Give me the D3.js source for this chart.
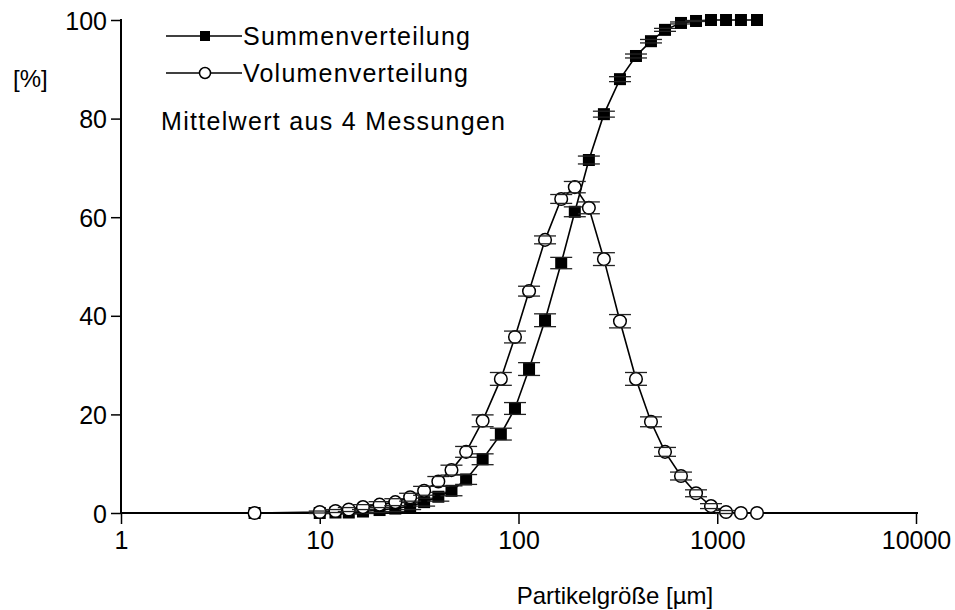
<!DOCTYPE html>
<html>
<head>
<meta charset="utf-8">
<script src="https://cdn.jsdelivr.net/npm/d3@7"></script>
<style>
  html, body { margin: 0; padding: 0; background: #fff; }
  svg text { font-family: Arial, "Liberation Sans", sans-serif; fill: #000; }
</style>
</head>
<body>
<svg id="chart" width="955" height="610"></svg>
<script>
// Particle size classes [µm]
const sizes = [4.7, 10, 12, 14, 16.5, 20, 24, 28.5, 33.5, 39.5, 46, 54.5, 66, 81.5, 96, 113, 136, 164, 192, 226, 269, 324, 390, 464, 546, 657, 782, 930, 1107, 1316, 1585];
// Cumulative distribution [%] and its spread
const summe = [0, 0, 0.1, 0.1, 0.3, 0.6, 0.9, 1.4, 2.2, 3.3, 4.5, 6.8, 10.9, 16.0, 21.2, 29.2, 39.1, 50.7, 61.1, 71.6, 80.9, 88.0, 92.7, 95.7, 98.0, 99.4, 99.8, 100, 100, 100, 100];
const summeErr = [0, 0.1, 0.2, 0.3, 0.4, 0.5, 0.6, 0.7, 0.8, 0.9, 1.0, 1.0, 1.1, 1.2, 1.2, 1.3, 1.3, 1.15, 1.0, 0.8, 0.6, 0.5, 0.4, 0.35, 0.3, 0.2, 0.1, 0, 0, 0, 0];
// Volume distribution [%] and its spread
const volumen = [0, 0.2, 0.4, 0.7, 1.2, 1.7, 2.2, 3.2, 4.5, 6.4, 8.7, 12.4, 18.7, 27.2, 35.7, 45.0, 55.4, 63.7, 66.1, 61.9, 51.5, 38.9, 27.2, 18.5, 12.4, 7.5, 4.0, 1.4, 0.2, 0, 0];
const volumenErr = [0, 0.2, 0.3, 0.4, 0.5, 0.6, 0.7, 0.8, 0.9, 1.0, 1.0, 1.1, 1.2, 1.3, 1.2, 1.0, 0.8, 0.9, 1.15, 1.2, 1.3, 1.35, 1.3, 1.0, 0.9, 0.8, 0.7, 0.5, 0.3, 0, 0];

const xTicks = [1, 10, 100, 1000, 10000];
const yTicks = [0, 20, 40, 60, 80, 100];
const yMinor = [10, 30, 50, 70, 90];

const svg = d3.select("#chart");
const x = d3.scaleLog().domain([1, 10000]).range([121, 916]);
const y = d3.scaleLinear().domain([0, 100]).range([513, 20]);

// minor x ticks: 2..9 in each decade
const xMinor = [];
for (let d = 1; d < 10000; d *= 10) for (let k = 2; k <= 9; k++) xMinor.push(d * k);

// ---- axes ----
const gx = svg.append("g").attr("transform", `translate(0,${y(0)})`);
gx.call(d3.axisBottom(x).tickValues(xMinor).tickSize(6).tickFormat(""))
  .call(g => g.select(".domain").remove());
gx.call(d3.axisBottom(x).tickValues(xTicks).tickSize(11).tickPadding(4).tickFormat(d3.format("d")))
  .call(g => g.select(".domain").attr("d", `M${x(1)},0H${x(10000) + 2}`).attr("stroke-width", 2));
gx.selectAll("line").attr("stroke-width", 1.5);
gx.selectAll("text").attr("font-size", 25).attr("dy", "0.85em");

const gy = svg.append("g").attr("transform", `translate(${x(1)},0)`);
gy.call(d3.axisLeft(y).tickValues(yMinor).tickSize(4).tickFormat(""))
  .call(g => g.select(".domain").remove());
gy.call(d3.axisLeft(y).tickValues(yTicks).tickSize(10).tickPadding(4).tickFormat(d3.format("d")))
  .call(g => g.select(".domain").attr("d", `M0,${y(0)}V${y(100) - 1}`).attr("stroke-width", 2));
gy.selectAll("line").attr("stroke-width", 1.5);
gy.selectAll("text").attr("font-size", 25).attr("dy", "0.36em");

svg.append("text").attr("x", 13).attr("y", 87).attr("font-size", 24).text("[%]");
svg.append("text").attr("x", 615).attr("y", 604).attr("font-size", 24)
  .attr("text-anchor", "middle").text("Partikelgröße [µm]");

// ---- series ----
const line = d3.line().x(d => x(d.s)).y(d => y(d.v));
const mk = (vals, errs) => sizes.map((s, i) => ({ s, v: vals[i], e: errs[i] }));
const sumData = mk(summe, summeErr);
const volData = mk(volumen, volumenErr);

function drawSeries(data, kind) {
  const g = svg.append("g");
  const r = 6.3;
  g.append("path").datum(data).attr("d", line)
    .attr("fill", "none").attr("stroke", "#000").attr("stroke-width", 1.6);
  const pts = g.selectAll("g.pt").data(data).join("g").attr("class", "pt")
    .attr("transform", d => `translate(${x(d.s)},${y(d.v)})`);
  // error stems outside the marker
  const eb = pts.filter(d => d.e > 0);
  [1, -1].forEach(sg => {
    eb.filter(d => Math.abs(y(d.v + d.e) - y(d.v)) > r).append("line").attr("x1", 0).attr("x2", 0)
      .attr("y1", d => y(d.v + sg * d.e) - y(d.v)).attr("y2", 0)
      .attr("stroke", "#222").attr("stroke-width", 1.2);
  });
  if (kind === "square") {
    pts.append("rect").attr("x", -6).attr("y", -6).attr("width", 12).attr("height", 12).attr("fill", "#000");
  } else {
    pts.append("circle").attr("r", r).attr("fill", "#fff").attr("stroke", "#000").attr("stroke-width", 1.5);
  }
  // caps
  [1, -1].forEach(sg => {
    eb.append("line").attr("x1", -11).attr("x2", 11)
      .attr("y1", d => y(d.v + sg * d.e) - y(d.v)).attr("y2", d => y(d.v + sg * d.e) - y(d.v))
      .attr("stroke", "#222").attr("stroke-width", 1.3);
  });
}
drawSeries(sumData, "square");
drawSeries(volData, "circle");

// ---- legend ----
const lg = svg.append("g");
lg.append("line").attr("x1", 166).attr("x2", 242).attr("y1", 36).attr("y2", 36).attr("stroke", "#000").attr("stroke-width", 1.6);
lg.append("rect").attr("x", 200).attr("y", 31).attr("width", 10).attr("height", 10).attr("fill", "#000");
lg.append("text").attr("x", 243).attr("y", 45).attr("font-size", 25).attr("textLength", 227).attr("lengthAdjust", "spacing").text("Summenverteilung");
lg.append("line").attr("x1", 166).attr("x2", 242).attr("y1", 73).attr("y2", 73).attr("stroke", "#000").attr("stroke-width", 1.6);
lg.append("circle").attr("cx", 205).attr("cy", 73).attr("r", 5.5).attr("fill", "#fff").attr("stroke", "#000").attr("stroke-width", 1.5);
lg.append("text").attr("x", 243).attr("y", 82).attr("font-size", 25).attr("textLength", 225).attr("lengthAdjust", "spacing").text("Volumenverteilung");
svg.append("text").attr("x", 161).attr("y", 130).attr("font-size", 25).attr("textLength", 344).attr("lengthAdjust", "spacing").text("Mittelwert aus 4 Messungen");
</script>
</body>
</html>
